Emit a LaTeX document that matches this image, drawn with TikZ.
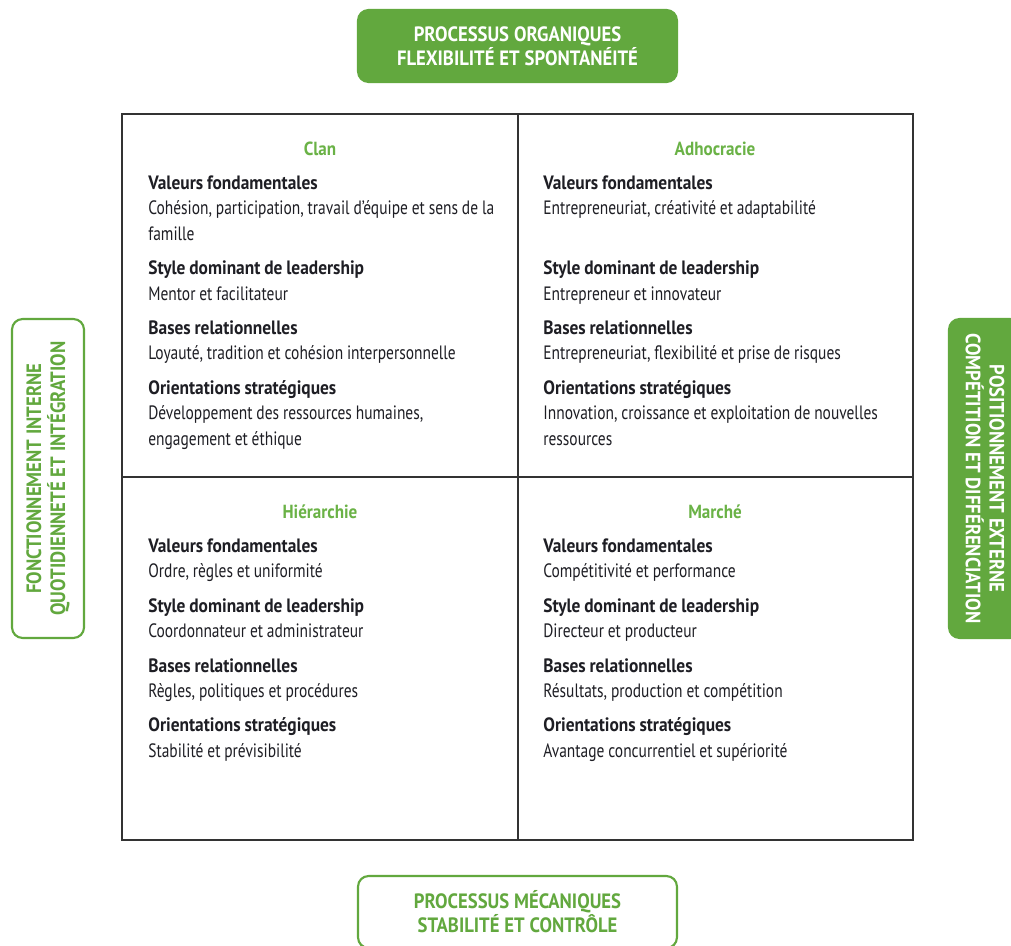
\documentclass[tikz,border=0pt]{standalone}
\usepackage{fontspec}
\setmainfont{PT Sans}[FakeStretch=0.8, BoldFeatures={FakeStretch=0.9}]
\definecolor{cvgreen}{RGB}{98,168,62}
\definecolor{cvtitle}{RGB}{106,178,70}
\definecolor{cvtext}{RGB}{30,30,36}
\newlength\grpgap
\setlength\grpgap{5.1pt}
\tikzset{
  x=0.02cm, y=-0.02cm,
  gridline/.style={draw=black!80, line width=1.1pt},
  qtitle/.style={anchor=base, inner sep=0pt, text=cvtitle, font=\bfseries\fontsize{10.8}{12}\selectfont},
  qbody/.style={anchor=base west, inner sep=0pt, text width=7.4cm, align=flush left, text=cvtext,
    font={\fontsize{11}{14.46}\selectfont\spaceskip 2.2pt\relax}},
  axisbox/.style={rounded corners=6pt, line width=1.2pt, draw=cvgreen, align=center,
    font={\bfseries\fontsize{11.8}{13.6}\selectfont\spaceskip 2.8pt plus 1pt minus 0.5pt\relax},
    minimum width=6.38cm, minimum height=1.44cm},
  axisfull/.style={axisbox, fill=cvgreen, text=white},
  axisline/.style={axisbox, fill=white, text=cvgreen}
}
\begin{document}
\begin{tikzpicture}
    %% page
    \fill[white] (0,0) rectangle (1011,946);
    \clip (0,0) rectangle (1011,946);
    %% grid of the four cultures
    \draw[gridline] (122,114) rectangle (913,840);
    \draw[gridline] (518,114) -- (518,840);
    \draw[gridline] (122,477) -- (913,477);
    %% axes
    \node[axisfull] (organique) at (517.5,46) {PROCESSUS ORGANIQUES\\FLEXIBILITÉ ET SPONTANÉITÉ};
    \node[axisline] (mecanique) at (517.5,912) {PROCESSUS MÉCANIQUES\\STABILITÉ ET CONTRÔLE};
    \node[axisline,rotate=90] (interne) at (48,478.5) {FONCTIONNEMENT INTERNE\\QUOTIDIENNETÉ ET INTÉGRATION};
    \node[axisfull,rotate=-90] (externe) at (985,478.5) {POSITIONNEMENT EXTERNE\\COMPÉTITION ET DIFFÉRENCIATION};
    %% clan
    \node[qtitle] (clan) at (320,155) {Clan};
    \node[qbody] (clantxt) at (148,189.5) {\textbf{Valeurs fondamentales}\\
      Cohésion, participation, travail d'équipe et sens de la\\famille\\[\grpgap]
      \textbf{Style dominant de leadership}\\Mentor et facilitateur\\[\grpgap]
      \textbf{Bases relationnelles}\\Loyauté, tradition et cohésion interpersonnelle\\[\grpgap]
      \textbf{Orientations stratégiques}\\Développement des ressources humaines,\\engagement et éthique};
    %% adhocracie
    \node[qtitle] (adhoc) at (715,155) {Adhocracie};
    \node[qbody] (adhoctxt) at (543,189.5) {\textbf{Valeurs fondamentales}\\
      Entrepreneuriat, créativité et adaptabilité\\\mbox{}\\[\grpgap]
      \textbf{Style dominant de leadership}\\Entrepreneur et innovateur\\[\grpgap]
      \textbf{Bases relationnelles}\\Entrepreneuriat, flexibilité et prise de risques\\[\grpgap]
      \textbf{Orientations stratégiques}\\Innovation, croissance et exploitation de nouvelles\\ressources};
    %% hierarchie
    \node[qtitle] (hier) at (320,518) {Hiérarchie};
    \node[qbody] (hiertxt) at (148,552.5) {\textbf{Valeurs fondamentales}\\
      Ordre, règles et uniformité\\[\grpgap]
      \textbf{Style dominant de leadership}\\Coordonnateur et administrateur\\[\grpgap]
      \textbf{Bases relationnelles}\\Règles, politiques et procédures\\[\grpgap]
      \textbf{Orientations stratégiques}\\Stabilité et prévisibilité};
    %% marche
    \node[qtitle] (marche) at (715,518) {Marché};
    \node[qbody] (marchetxt) at (543,552.5) {\textbf{Valeurs fondamentales}\\
      Compétitivité et performance\\[\grpgap]
      \textbf{Style dominant de leadership}\\Directeur et producteur\\[\grpgap]
      \textbf{Bases relationnelles}\\Résultats, production et compétition\\[\grpgap]
      \textbf{Orientations stratégiques}\\Avantage concurrentiel et supériorité};
\end{tikzpicture}
\end{document}
